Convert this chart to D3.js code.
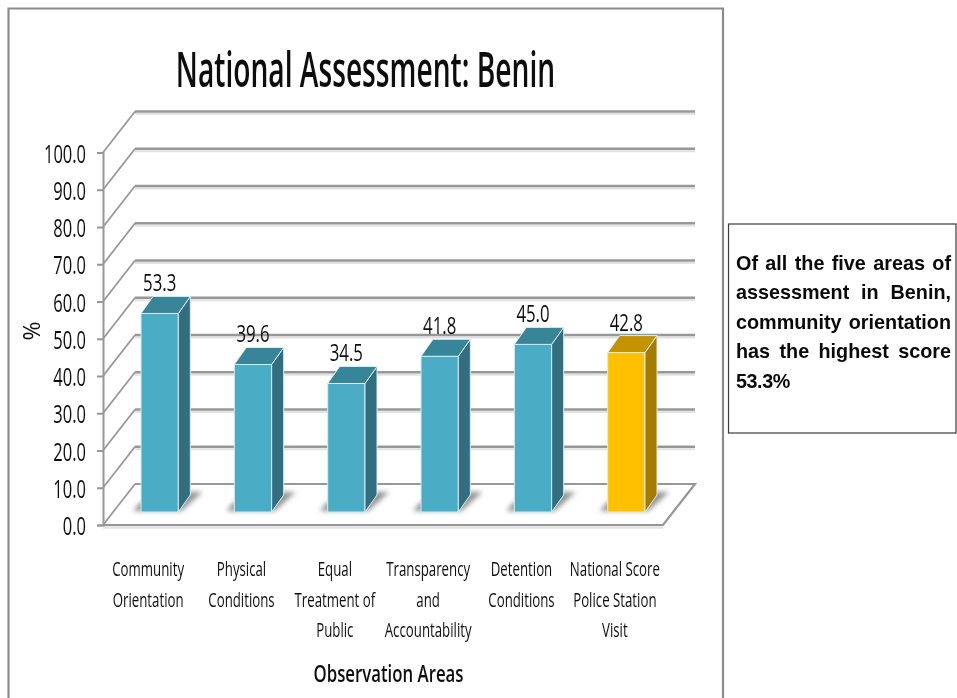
<!DOCTYPE html>
<html><head><meta charset="utf-8">
<script src="https://cdn.jsdelivr.net/npm/d3@7"></script>
<style>
html,body{margin:0;padding:0;background:#fff;overflow:hidden}
#note{position:absolute;left:736px;top:248.5px;width:215px;font:bold 19.8px/29.5px "Liberation Sans",Arial,sans-serif;color:#0a0a0a;filter:blur(0.3px)}
#note div{white-space:nowrap;text-align:justify;text-align-last:justify}
#note div:last-child{text-align-last:left;letter-spacing:-0.45px}
svg{position:absolute;left:0;top:0}
</style></head><body>
<div id="chart"></div>
<div id="note"></div>
<script>
const titleText = "National Assessment: Benin";
const xTitle = "Observation Areas";
const yTitle = "%";
const noteLines = ["Of all the five areas of","assessment in Benin,","community orientation","has the highest score","53.3%"];
const categories = ["Community Orientation","Physical Conditions","Equal Treatment of Public","Transparency and Accountability","Detention Conditions","National Score Police Station Visit"];
const categoryLines = [["Community","Orientation"],["Physical","Conditions"],["Equal","Treatment of","Public"],["Transparency","and","Accountability"],["Detention","Conditions"],["National Score","Police Station","Visit"]];
const values = [53.3,39.6,34.5,41.8,45.0,42.8];
const yTicks = [0,10,20,30,40,50,60,70,80,90,100];
const barColors = ["#4BACC6","#4BACC6","#4BACC6","#4BACC6","#4BACC6","#FFC000"];

const W=957,H=698;
const FONT='"Open Sans",sans-serif';
const depthX=32, depthY=41, barDX=12, barDY=17, baseLift=13, baseShift=10;
const y=d3.scaleLinear().domain([0,100]).range([525,152.5]);
const x=d3.scaleBand().domain(categories).range([103+baseShift,663+baseShift]).paddingInner(0.6).paddingOuter(0.3);

const svg=d3.select("#chart").append("svg").attr("width",W).attr("height",H);
const defs=svg.append("defs");
const blur=defs.append("filter").attr("id","blur").attr("x","-30%").attr("y","-30%").attr("width","160%").attr("height","160%");
blur.append("feGaussianBlur").attr("stdDeviation",2.6);
const soft=defs.append("filter").attr("id","soft").attr("x","-5%").attr("y","-5%").attr("width","110%").attr("height","110%");
soft.append("feGaussianBlur").attr("stdDeviation",0.45);

// frame
svg.append("path").attr("d",`M8.5 ${H}V8.5H723V${H}`).attr("fill","none").attr("stroke","#8a8a8a").attr("stroke-width",2.2);
// note box
svg.append("rect").attr("x",728.5).attr("y",224).attr("width",227.5).attr("height",209).attr("fill","#fff").attr("stroke","#3a3a3a").attr("stroke-width",1.2);
d3.select("#note").selectAll("div").data(noteLines).join("div").text(d=>d);

const text=(sel,s,px,py,size,sx,anchor="middle",weight=400)=>sel.append("text")
  .attr("transform",`translate(${px},${py}) scale(${sx},1)`)
  .attr("text-anchor",anchor).attr("font-family",FONT).attr("font-size",size).attr("font-weight",weight)
  .attr("fill","#111").text(s);

const g=svg.append("g").attr("filter","url(#soft)");

text(g,titleText,365.5,87,49,0.575,"middle",600);

// grid shadow + lines
const gridV=yTicks.slice(1);
g.selectAll(".gs").data(gridV).join("line").attr("x1",135).attr("x2",695)
  .attr("y1",d=>y(d)-depthY+2.4).attr("y2",d=>y(d)-depthY+2.4).attr("stroke","#e2e2e2").attr("stroke-width",2);
g.selectAll(".gl").data(gridV).join("line").attr("x1",135).attr("x2",695)
  .attr("y1",d=>y(d)-depthY).attr("y2",d=>y(d)-depthY).attr("stroke","#979797").attr("stroke-width",2.4);
g.selectAll(".gd").data(yTicks).join("line").attr("x1",103).attr("x2",103+depthX)
  .attr("y1",d=>y(d)).attr("y2",d=>y(d)-depthY).attr("stroke","#979797").attr("stroke-width",1.8);

// floor
g.append("path").attr("d",`M${103} ${y(0)+2.4}H${663}`).attr("stroke","#e2e2e2").attr("stroke-width",2.5).attr("fill","none");
g.append("path").attr("d",`M${135} ${y(0)-depthY}H${695}L${663} ${y(0)}H${103}`).attr("stroke","#979797").attr("stroke-width",2.2).attr("fill","none");

// left axis
const axis=d3.axisLeft(y).tickValues(yTicks).tickFormat(d3.format(".1f")).tickSize(6).tickPadding(0);
const ax=g.append("g").attr("transform","translate(103,0)").call(axis);
ax.selectAll("path,line").attr("stroke","#979797").attr("stroke-width",2);
ax.selectAll("text").remove();
ax.selectAll(".tick").each(function(d){
  text(d3.select(this),d3.format(".1f")(d),86-103,9.5,25,0.66,"end");
});

// bars
const base=y(0)-baseLift;
const barH=d=>y(0)-y(d);
const bars=g.selectAll(".bar").data(categories.map((c,i)=>({c,v:values[i],col:barColors[i]}))).join("g");
bars.append("path").attr("fill","#6e6e6e").attr("opacity",0.75).attr("filter","url(#blur)")
  .attr("d",d=>{const a=x(d.c),b=a+x.bandwidth();return `M${a-8} ${base-1}H${b+3}L${b+24} ${base-20}H${b+10}L${a} ${base-10}Z`;});
bars.append("rect").attr("x",d=>x(d.c)).attr("width",x.bandwidth()).attr("y",d=>base-barH(d.v)).attr("height",d=>barH(d.v))
  .attr("fill",d=>d.col).attr("stroke","#d8eef4").attr("stroke-width",1);
bars.append("path").attr("fill",d=>d3.color(d.col).darker(1.25)).attr("stroke","#d8eef4").attr("stroke-width",1)
  .attr("d",d=>{const b=x(d.c)+x.bandwidth(),t=base-barH(d.v);return `M${b} ${t}l${barDX} ${-barDY}V${base-barDY}L${b} ${base}Z`;});
bars.append("path").attr("fill",d=>d3.color(d.col).darker(0.75)).attr("stroke","#d8eef4").attr("stroke-width",1)
  .attr("d",d=>{const a=x(d.c),t=base-barH(d.v);return `M${a} ${t}l${barDX} ${-barDY}h${x.bandwidth()}l${-barDX} ${barDY}Z`;});
bars.each(function(d){
  text(d3.select(this),d3.format(".1f")(d.v),x(d.c)+x.bandwidth()/2,base-barH(d.v)-22,24,0.7);
});

// category labels
categories.forEach((c,i)=>{
  const cx=x(c)+x.bandwidth()/2-11.5;
  categoryLines[i].forEach((ln,j)=>text(g,ln,cx,576+j*30.7,19.5,0.68));
});

// axis titles
text(g,xTitle,388.5,682,24,0.7,"middle",600);
g.append("text").attr("transform","translate(40,331) rotate(-90)").attr("text-anchor","middle")
  .attr("font-family",FONT).attr("font-size",23).attr("fill","#111").text(yTitle);
</script>
</body></html>
